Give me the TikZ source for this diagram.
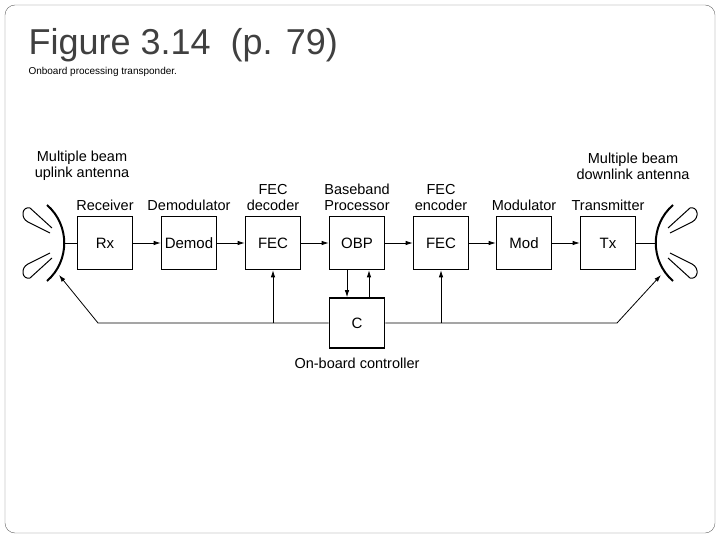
\documentclass[tikz,border=0pt]{standalone}
\usepackage{fontspec}
\setmainfont{Liberation Sans}
\usetikzlibrary{positioning,arrows.meta}
\tikzset{
   blk/.style={draw=black, line width=1.6pt, minimum width=55pt, minimum height=53pt, inner sep=0pt, font=\fontsize{15}{15}\selectfont},
   lbl/.style={align=center, font=\fontsize{14.5}{16}\selectfont, inner sep=0pt},
   sig/.style={-{Latex[length=7pt,width=4.5pt]}, draw=black, line width=0.8pt},
   petal/.style={draw=black, line width=1pt},
   dish/.style={draw=black, line width=2pt},
}
\begin{document}
\begin{tikzpicture}[x=1pt,y=-1pt]
            \useasboundingbox (0,0) rectangle (720,540);
            \draw[rounded corners=10pt, draw=black!60] (5,5) rectangle (715,533);
            \node[anchor=base west, text=black!75, font=\fontsize{36}{36}\selectfont] (title) at (25,55) {Figure 3.14\ \ (p. 79)};
            \node[anchor=base west, font=\fontsize{10}{10}\selectfont] (sub) at (25,75) {Onboard processing transponder.};
            % chain of blocks
            \node[blk] (rx) at (105,243) {Rx};
            \node[blk] (demod) at (189,243) {Demod};
            \node[blk] (fecd) at (273,243) {FEC};
            \node[blk] (obp) at (357,243) {OBP};
            \node[blk] (fece) at (441,243) {FEC};
            \node[blk] (mod) at (524,243) {Mod};
            \node[blk] (tx) at (608,243) {Tx};
            \node[blk, minimum height=50pt] (ctl) at (357,323) {C};
            \node[lbl, above=5pt of rx] {Receiver};
            \node[lbl, above=5pt of demod] {Demodulator};
            \node[lbl, above=5pt of fecd] {FEC\\decoder};
            \node[lbl, above=5pt of obp] {Baseband\\Processor};
            \node[lbl, above=5pt of fece] {FEC\\encoder};
            \node[lbl, above=5pt of mod] {Modulator};
            \node[lbl, above=5pt of tx] {Transmitter};
            \node[lbl, below=9pt of ctl] (ctllbl) {On-board controller};
            \node[lbl] (upl) at (82,166) {Multiple beam\\uplink antenna};
            \node[lbl] (dnl) at (633,166) {Multiple beam\\downlink antenna};
            % antennas
            \draw[dish] (47,205) .. controls (70,225) and (70,261) .. (47,281);
            \draw[dish] (673,205) .. controls (650,225) and (650,261) .. (673,281);
            \draw[petal] (50,233) -- (28,222) .. controls (20,218) and (22,206) .. (30,208) -- (52,228);
            \draw[petal] (50,253) -- (28,264) .. controls (20,268) and (22,280) .. (30,278) -- (52,258);
            \draw[petal] (670,233) -- (692,222) .. controls (700,218) and (698,206) .. (690,208) -- (668,228);
            \draw[petal] (670,253) -- (692,264) .. controls (700,268) and (698,280) .. (690,278) -- (668,258);
            \coordinate (ldish) at (64,243);
            \coordinate (rdish) at (656,243);
            \coordinate (lfeed) at (59,275);
            \coordinate (rfeed) at (661,275);
            \coordinate (lcorner) at (98,323);
            \coordinate (rcorner) at (617,323);
            % signal path
            \draw[line width=0.8pt] (ldish) -- (rx.west);
            \draw[sig] (rx) -- (demod);
            \draw[sig] (demod) -- (fecd);
            \draw[sig] (fecd) -- (obp);
            \draw[sig] (obp) -- (fece);
            \draw[sig] (fece) -- (mod);
            \draw[sig] (mod) -- (tx);
            \draw[line width=0.8pt] (tx.east) -- (rdish);
            % control lines
            \draw[sig] (ctl.west) -- (lcorner) -- (lfeed);
            \draw[sig] (ctl.east) -- (rcorner) -- (rfeed);
            \draw[sig] (fecd.south |- ctl.west) -- (fecd.south);
            \draw[sig] (fece.south |- ctl.east) -- (fece.south);
            \draw[sig] ([xshift=-10pt]obp.south) -- ([xshift=-10pt]ctl.north);
            \draw[sig] ([xshift=12pt]ctl.north) -- ([xshift=12pt]obp.south);
\end{tikzpicture}
\end{document}
